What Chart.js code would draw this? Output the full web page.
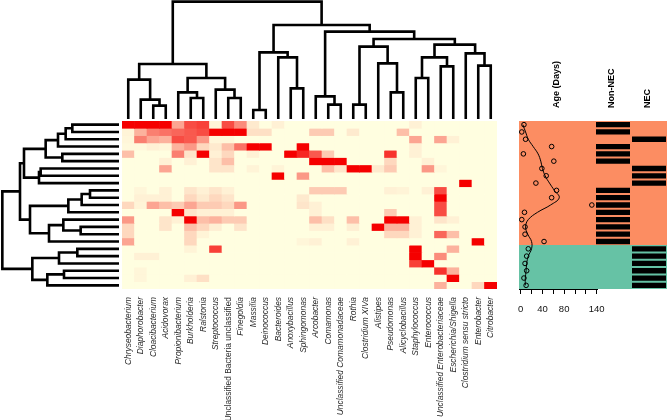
<!DOCTYPE html>
<html><head><meta charset="utf-8">
<script src="https://cdn.jsdelivr.net/npm/chart.js@4.4.1/dist/chart.umd.min.js"></script>
<style>
html,body{margin:0;padding:0;background:#fff;width:669px;height:420px;overflow:hidden;position:relative}
.box{position:absolute}
</style></head><body>
<div class="box" style="left:122px;top:0px;width:375px;height:119px"><canvas id="cTop"></canvas></div>
<div class="box" style="left:0px;top:121px;width:119px;height:168px"><canvas id="cLeft"></canvas></div>
<div class="box" style="left:122px;top:121px;width:375px;height:299px"><canvas id="cHeat"></canvas></div>
<div class="box" style="left:509px;top:46px;width:98px;height:273px"><canvas id="cAge"></canvas></div>
<div class="box" style="left:595px;top:46px;width:72px;height:243px"><canvas id="cStatus"></canvas></div>
<script>
// ---------- DATA ----------
const taxa = ["Chryseobacterium","Diaphorobacter","Cloacibacterium","Acidovorax","Propionibacterium","Burkholderia","Ralstonia","Streptococcus","Unclassified Bacteria unclassified","Finegoldia","Massilia","Deinococcus","Bacteroides","Anoxybacillus","Sphingomonas","Arcobacter","Comamonas","Unclassified Comamonadaceae","Rothia","Clostridium XIVa","Alistipes","Pseudomonas","Alicyclobacillus","Staphylococcus","Enterococcus","Unclassified Enterobacteriaceae","Escherichia/Shigella","Clostridium sensu stricto","Enterobacter","Citrobacter"];
const uprightTaxa = ["Unclassified Bacteria unclassified"];

// relative abundance per sample (rows, top to bottom) and taxon (columns)
const abundance = [
 [1,1,1,1,.35,.7,.75,.04,.7,.45,.08,0,.05,0,0,0,0,0,0,0,0,0,0,.05,0,0,0,0,0,0],
 [.04,.3,.5,.55,.6,.65,.7,1,1,1,.12,.12,0,0,0,.2,.2,0,.08,0,0,0,.25,0,0,0,0,0,0,0],
 [.03,.5,.35,.3,.7,.65,.4,.03,.03,0,0,0,0,0,0,0,0,0,0,0,0,0,0,.35,0,.35,.05,0,0,0],
 [.02,.02,.05,.03,.3,.4,.15,.08,.25,.55,1,1,0,0,1,0,0,0,0,0,0,0,0,.05,0,0,0,0,0,0],
 [.25,0,0,0,.5,.1,1,.05,.15,0,.05,0,0,1,.85,.65,.2,0,0,0,0,.8,0,.05,0,0,0,0,0,0],
 [0,0,0,.05,0,.05,0,.1,.25,0,0,0,0,0,0,1,1,1,0,0,0,.15,0,0,.05,0,0,0,0,0],
 [0,0,0,.35,0,0,0,.1,.1,0,.04,0,.04,0,0,0,.25,.1,1,1,.08,.2,0,0,.4,.03,0,0,0,0],
 [0,0,0,0,0,0,0,0,0,0,0,0,1,0,.4,0,0,0,0,0,0,0,0,0,0,0,0,0,0,0],
 [0,0,0,0,0,0,0,0,0,0,0,0,0,0,0,0,0,0,0,0,0,0,0,0,0,0,0,1,0,0],
 [0,.03,0,.05,0,.1,.05,.1,.05,0,0,0,0,0,0,.2,.2,.2,0,0,0,.05,.04,0,.05,.7,0,0,0,0],
 [0,.05,.05,.05,0,.15,.08,.15,.1,0,0,0,0,0,.08,0,0,0,0,0,0,0,0,0,0,1,0,0,0,0],
 [.15,.04,.35,.25,.2,.35,.2,.2,.15,.4,0,0,0,0,.1,.05,0,0,0,0,0,0,0,0,0,.7,0,0,0,0],
 [0,0,0,0,1,.1,.05,.05,.05,0,0,0,0,0,0,.05,0,0,0,0,0,.2,0,0,0,.7,0,0,0,0],
 [.4,0,0,.1,.05,1,.25,.3,.2,.2,0,0,0,0,0,.25,.12,0,.25,0,0,1,1,.05,0,.1,.05,0,0,0],
 [.15,0,0,.1,0,.25,.15,.06,0,.1,0,0,0,0,0,.05,.05,0,.06,0,1,.3,.3,.05,0,0,0,0,0,0],
 [.15,0,0,0,0,.15,.04,0,0,0,0,0,0,0,0,0,0,0,0,0,0,.15,.15,.05,0,.6,.25,0,0,0],
 [.35,0,0,0,0,.15,0,0,0,0,0,0,0,0,.03,.05,0,0,.05,0,0,0,0,0,0,0,0,0,1,0],
 [0,0,0,0,0,.04,0,.75,0,0,0,0,0,0,0,0,0,0,0,0,0,0,0,1,0,0,.3,0,0,0],
 [0,.05,.05,0,0,0,0,0,0,0,0,0,0,0,0,0,0,0,0,0,0,0,0,1,0,.45,0,0,0,0],
 [0,0,0,0,0,0,0,0,0,0,0,0,0,0,0,0,0,0,0,0,0,0,0,.75,1,0,0,0,0,0],
 [0,.03,0,0,0,0,0,0,0,0,0,0,0,0,0,0,0,0,0,0,0,0,0,0,0,.8,.3,0,0,0],
 [0,.03,0,0,0,.05,.12,0,0,0,0,0,0,0,0,0,0,0,0,0,0,0,0,0,0,0,1,0,0,0],
 [0,0,0,0,0,0,0,0,0,0,0,0,0,0,0,0,0,0,0,0,0,0,0,0,0,.3,0,0,.15,1]
];

// hierarchical clustering of taxa (columns): [a, b, height]; negative = leaf (1-based), positive = earlier merge
const colMerges = [
 [-3,-4,0.40],[-2,1,0.58],[-1,2,1.18],[-6,-7,0.63],[-5,4,0.80],[-9,-10,0.63],[-8,6,0.88],[5,7,1.23],[3,8,1.65],
 [-11,-12,0.27],[-14,-15,0.92],[-13,11,1.85],[10,12,2.00],[-17,-18,0.43],[-16,14,0.68],[-19,-20,0.43],
 [-22,-23,0.80],[-21,17,1.67],[16,18,2.17],[-24,-25,1.23],[-26,-27,1.58],[20,21,1.85],[-29,-30,1.60],
 [-28,23,1.97],[22,24,2.23],[19,25,2.40],[15,26,2.62],[13,27,2.82],[9,28,3.52]
];
// hierarchical clustering of samples (rows)
const rowMerges = [
 [-1,-2,1.40],[-3,1,1.60],[-4,2,1.83],[-5,-6,1.70],[3,4,2.20],[-7,-8,2.35],[-9,6,2.40],[5,7,2.85],
 [-10,-11,0.87],[-12,9,1.12],[-13,10,1.52],[-15,-16,1.15],[-14,12,1.67],[-17,13,2.10],[11,14,2.67],[8,15,2.97],
 [-18,-19,1.25],[-20,17,1.80],[-21,-22,1.65],[-23,19,2.15],[18,20,2.60],[16,21,3.50]
];

const ageDays   = [6,2,9,57,5,61,39,47,28,66,57,131,7,2,8,8,43,14,11,8,11,6,10];
const ageSmooth = [4,9,14,23,32,37,40,45,53,62,71,55,31,14,9,13,20,20,14,11,10,8.5,8.5];
const ageTicks = [0,20,40,60,80,100,120,140];
const ageTickLabels = [0,40,80,140];

const sampleGroup = [0,0,0,0,0,0,0,0,0,0,0,0,0,0,0,0,0,1,1,1,1,1,1];
const nonNEC = [1,1,0,1,1,1,0,0,0,1,1,1,1,1,1,1,1,0,0,0,0,0,0];
const NEC    = [0,0,1,0,0,0,1,1,1,0,0,0,0,0,0,0,0,1,1,1,1,1,1];
const statusLabels = ["Non-NEC","NEC"];
const groupColors = ["#FC8D62","#66C2A5"];

// ---------- CHARTS ----------
Chart.defaults.animation = false;
Chart.defaults.responsive = true;
Chart.defaults.maintainAspectRatio = false;
Chart.defaults.devicePixelRatio = 1;
Chart.defaults.plugins.legend.display = false;
Chart.defaults.plugins.tooltip.enabled = false;
Chart.defaults.font.family = "'Liberation Sans', Arial, sans-serif";

const nRows = abundance.length, nCols = taxa.length;
const rowIdx = abundance.map((_, i) => i);

function dendroDatasets(merges, horizontal) {
  const nodes = [];
  const get = id => id < 0 ? {p: -id - 1, h: 0} : nodes[id - 1];
  return merges.map(([a, b, h]) => {
    const A = get(a), B = get(b);
    const pts = [[A.p, A.h], [A.p, h], [B.p, h], [B.p, B.h]];
    nodes.push({p: (A.p + B.p) / 2, h});
    return {
      data: pts.map(([p, v]) => horizontal ? {x: v, y: p} : {x: p, y: v}),
      showLine: true, borderColor: '#000', borderWidth: 2.6, pointRadius: 0,
      borderJoinStyle: 'miter', borderCapStyle: 'butt', tension: 0, clip: 3
    };
  });
}
const hMax = 3.57;

new Chart(document.getElementById('cTop'), {
  type: 'scatter',
  data: {datasets: dendroDatasets(colMerges, false)},
  options: {layout: {padding: 0}, scales: {
    x: {display: false, min: -0.5, max: nCols - 0.5},
    y: {display: false, min: 0, max: hMax}
  }}
});

new Chart(document.getElementById('cLeft'), {
  type: 'scatter',
  data: {datasets: dendroDatasets(rowMerges, true)},
  options: {layout: {padding: 0}, scales: {
    x: {display: false, min: 0, max: hMax, reverse: true},
    y: {display: false, min: -0.5, max: nRows - 0.5, reverse: true}
  }}
});

function heatColor(v) {
  const lo = [255, 254, 224], hi = [245, 0, 0];
  const c = lo.map((l, i) => Math.round(l + (hi[i] - l) * v));
  return `rgb(${c[0]},${c[1]},${c[2]})`;
}

new Chart(document.getElementById('cHeat'), {
  type: 'bar',
  data: {labels: taxa, datasets: abundance.map(row => ({
    data: row.map(() => 1), backgroundColor: row.map(heatColor),
    borderWidth: 0, barPercentage: 1, categoryPercentage: 1, stack: 's'
  }))},
  options: {layout: {padding: 0}, scales: {
    x: {stacked: true, grid: {display: false}, border: {display: false},
        ticks: {autoSkip: false, minRotation: 90, maxRotation: 90, padding: 0, color: '#2a2a2a',
                font: c => ({size: 8.4, style: uprightTaxa.includes(taxa[c.index]) ? 'normal' : 'italic'})},
        afterFit: s => { s.height = 131; s.paddingLeft = 0; s.paddingRight = 0; }},
    y: {stacked: true, display: false, min: 0, max: nRows, reverse: true}
  }}
});

const rowBackground = {
  id: 'rowBackground',
  beforeDraw(chart) {
    const {ctx, chartArea, scales: {y}} = chart;
    ctx.save();
    sampleGroup.forEach((g, r) => {
      const y0 = y.getPixelForValue(r - 0.5), y1 = y.getPixelForValue(r + 0.5);
      ctx.fillStyle = groupColors[g];
      const top = Math.floor(Math.min(y0, y1)), bot = Math.ceil(Math.max(y0, y1));
      ctx.fillRect(chartArea.left, top, chartArea.right - chartArea.left, bot - top);
    });
    ctx.restore();
  }
};

new Chart(document.getElementById('cAge'), {
  type: 'scatter',
  data: {datasets: [
    {data: ageSmooth.map((v, r) => ({x: v, y: r})), showLine: true, borderColor: '#000', borderWidth: 1, pointRadius: 0, tension: 0.4},
    {data: ageDays.map((v, r) => ({x: v, y: r})), pointRadius: 2.3, pointBorderWidth: 1, pointBorderColor: '#000', pointBackgroundColor: 'rgba(0,0,0,0)'}
  ]},
  options: {layout: {padding: {left: 10, right: 10}}, scales: {
    x: {type: 'linear', position: 'bottom', min: -3.1, max: 140.5,
        afterBuildTicks: s => { s.ticks = ageTicks.map(v => ({value: v})); },
        grid: {display: true, drawOnChartArea: false, drawTicks: true, tickLength: 5, color: '#000', lineWidth: 1},
        border: {display: true, color: '#000', width: 1},
        ticks: {autoSkip: false, maxRotation: 0, padding: 10, color: '#111', font: {size: 9.5},
                callback: v => ageTickLabels.includes(v) ? String(v) : ''},
        afterFit: s => { s.height = 30; s.paddingLeft = 0; s.paddingRight = 0; }},
    xt: {type: 'category', axis: 'x', position: 'top', labels: ['Age (Days)'], offset: true,
        grid: {display: false}, border: {display: false},
        ticks: {minRotation: 90, maxRotation: 90, padding: 5, labelOffset: 9, color: '#000', font: {size: 9, weight: 'bold'}},
        afterFit: s => { s.height = 75; s.paddingLeft = 0; s.paddingRight = 0; }},
    y: {display: false, min: -0.5, max: nRows - 0.5, reverse: true}
  }},
  plugins: [rowBackground]
});

new Chart(document.getElementById('cStatus'), {
  type: 'bar',
  data: {labels: statusLabels, datasets: rowIdx.map(r => ({
    data: [nonNEC[r] ? [r - 0.5, r + 0.5] : null, NEC[r] ? [r - 0.5, r + 0.5] : null],
    backgroundColor: '#000', borderColor: groupColors[sampleGroup[r]], borderWidth: 1,
    borderSkipped: false, grouped: false, barPercentage: 1, categoryPercentage: 1, inflateAmount: 0
  }))},
  options: {layout: {padding: 0}, scales: {
    x: {position: 'top', grid: {display: false}, border: {display: false},
        ticks: {minRotation: 90, maxRotation: 90, padding: 5, labelOffset: 9, color: '#000', font: {size: 9, weight: 'bold'}},
        afterFit: s => { s.height = 75; s.paddingLeft = 0; s.paddingRight = 0; }},
    y: {display: false, min: -0.5, max: nRows - 0.5, reverse: true}
  }},
  plugins: [rowBackground]
});
</script>
</body></html>
